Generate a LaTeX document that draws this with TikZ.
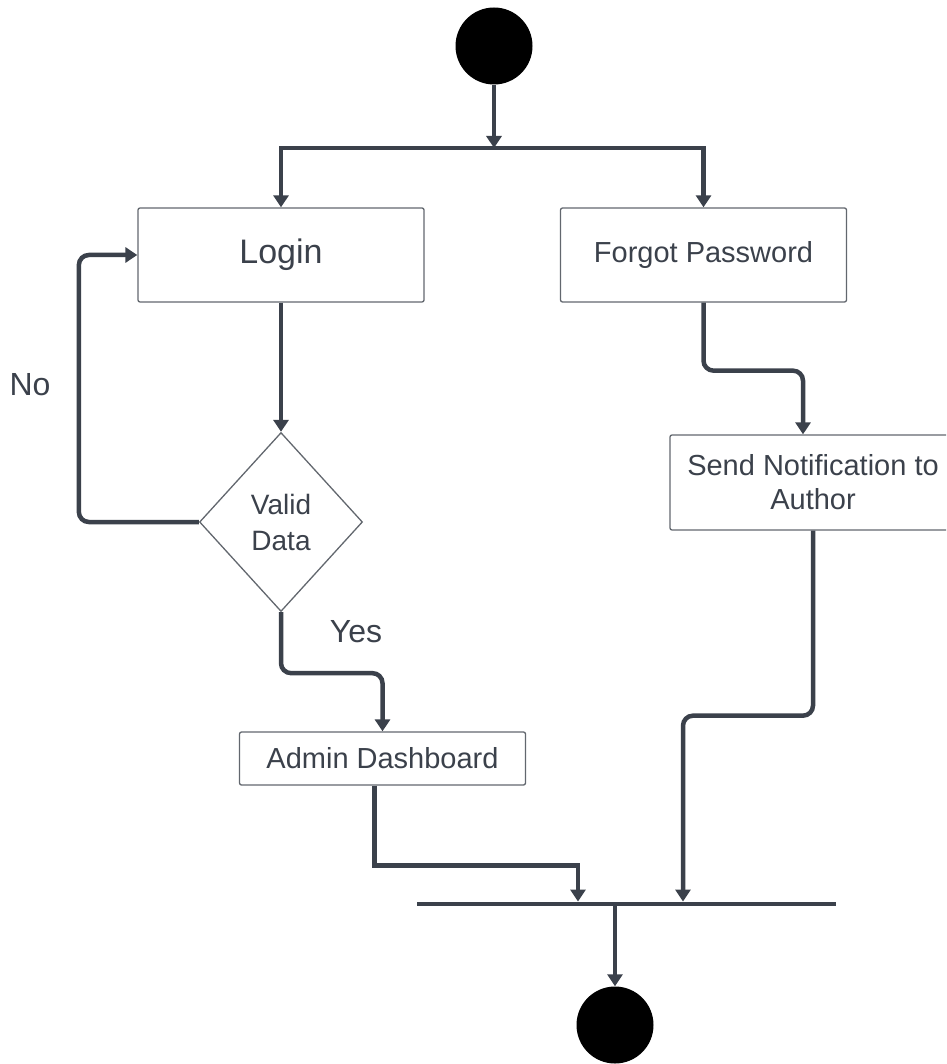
\documentclass[tikz,border=0pt]{standalone}
\usepackage{fontspec}
\setmainfont{Liberation Sans}
\usetikzlibrary{arrows.meta,shapes.geometric,positioning}
\definecolor{ink}{HTML}{3B414B}
\definecolor{edge}{HTML}{62676E}
\tikzset{
  box/.style={draw=edge,line width=1.3pt,rounded corners=2pt,text=ink,align=center,minimum width=286pt,font=\fontsize{29}{34}\selectfont},
  flow/.style={draw=ink,line width=4.5pt,-{Triangle[width=15pt,length=12pt]}},
  dot/.style={circle,fill=black,minimum size=77pt,inner sep=0pt},
  lbl/.style={text=ink,font=\fontsize{32}{38}\selectfont}
}

\begin{document}
\begin{tikzpicture}[x=1pt,y=-1pt]
    \useasboundingbox (0,0) rectangle (946,1064);
    \clip (0,0) rectangle (946,1064);
    \node[dot] (start) at (494,46) {};
    \coordinate (fork) at (494,148);
    \node[box,minimum height=94pt,font=\fontsize{34}{40}\selectfont] (login) at (281,255) {Login};
    \node[box,minimum height=94pt] (forgot) at (703.5,255) {Forgot Password};
    \node[diamond,draw=edge,line width=1.3pt,text=ink,align=center,minimum width=163pt,minimum height=179pt,inner sep=0pt,font=\fontsize{28}{36}\selectfont] (valid) at (281,522) {Valid\\Data};
    \node[box,minimum height=53pt] (admin) at (382.5,758.5) {Admin Dashboard};
    \node[box,minimum height=95pt] (send) at (813,482.5) {Send Notification to\\Author};
    \node[fill=ink,minimum width=419pt,minimum height=4.5pt,inner sep=0pt] (bar) at (626.5,904) {};
    \node[dot] (end) at (615,1025) {};
    \node[lbl] (no) at (30,385) {No};
    \node[lbl] (yes) at (356,632) {Yes};

    \draw[flow] (start) -- (fork);
    \draw[flow] (fork) -| (login);
    \draw[flow] (fork) -| (forgot);
    \draw[flow] (login) -- (valid);
    \draw[flow,rounded corners=10pt] (valid.west) -- ++(-120,0) |- (login.west);
    \draw[flow,rounded corners=10pt] (valid.south) -- ++(0,61) -| (admin.north);
    \draw[flow] ([xshift=-8pt]admin.south) -- ++(0,80) -| ([xshift=-48.5pt]bar.north);
    \draw[flow,rounded corners=10pt] (forgot.south) -- ++(0,68) -| ([xshift=-10pt]send.north);
    \draw[flow,rounded corners=10pt] (send.south) -- ++(0,185) -| ([xshift=56.5pt]bar.north);
    \draw[flow] ([xshift=-11.5pt]bar.south) -- (end);
\end{tikzpicture}
\end{document}
